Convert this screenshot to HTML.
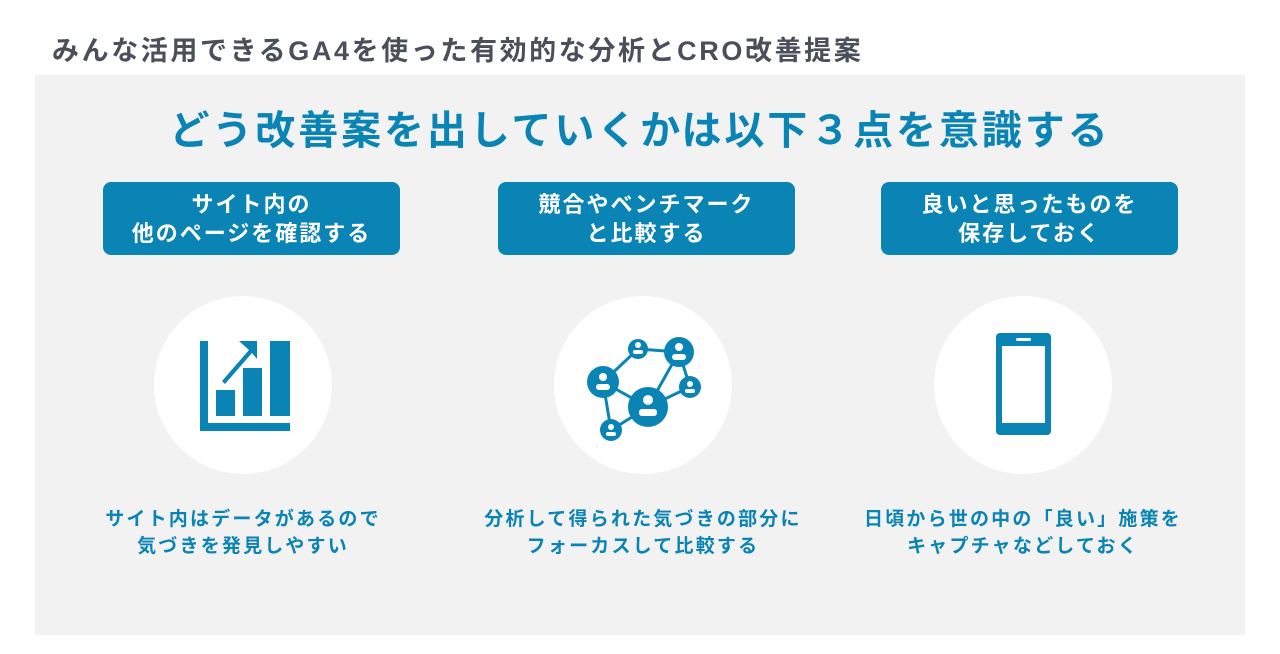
<!DOCTYPE html>
<html><head><meta charset="utf-8"><style>
body{margin:0;width:1280px;height:654px;background:#fff;font-family:"Liberation Sans","Noto Sans CJK JP",sans-serif;position:relative;overflow:hidden}
.t{position:absolute;left:52px;top:29px;font-size:27px;font-weight:bold;color:#4a4f5a;letter-spacing:2.6px;white-space:nowrap}
.p{position:absolute;left:35px;top:75px;width:1210px;height:560px;background:#f2f2f2}
.h{position:absolute;left:0;width:1280px;top:98px;text-align:center;font-size:40px;font-weight:bold;color:#0a84b4;letter-spacing:2.9px;white-space:nowrap}
.b{position:absolute;top:182px;width:297px;height:73px;background:#0a84b4;border-radius:8px;color:#fff;font-size:22px;font-weight:bold;text-align:center;display:flex;align-items:center;justify-content:center;line-height:29px;letter-spacing:2px}
.c{position:absolute;top:296px;width:178px;height:178px;border-radius:50%;background:#fff}
.d{position:absolute;top:506px;width:400px;text-align:center;font-size:19px;font-weight:bold;color:#0a84b4;line-height:27px;letter-spacing:2.2px}
</style></head><body>
<div class="t">みんな活用できるGA4を使った有効的な分析とCRO改善提案</div>
<div class="p"></div>
<div class="h">どう改善案を出していくかは以下３点を意識する</div>
<div class="b" style="left:103px">サイト内の<br>他のページを確認する</div>
<div class="b" style="left:498px">競合やベンチマーク<br>と比較する</div>
<div class="b" style="left:881px">良いと思ったものを<br>保存しておく</div>
<div class="c" style="left:154px"></div>
<div class="c" style="left:554px"></div>
<div class="c" style="left:934px"></div>
<svg style="position:absolute;left:0;top:0" width="1280" height="654">
<g fill="#0a84b4">
<path d="M200 341h8v82h82v8h-90z"/>
<rect x="216" y="390" width="19" height="26"/>
<rect x="243" y="368" width="19" height="48"/>
<rect x="270" y="341" width="20" height="75"/>
<path d="M239 341h18v18l-5-6-27 31-3-3 27-31z"/>
</g>
<g stroke="#0a84b4" stroke-width="3" fill="none">
<path d="M603 382L638 349L679 352L648 407L603 382L611 430L648 407L690 387L679 352"/>
</g>
<g fill="#0a84b4">
<circle cx="603" cy="382" r="16"/><circle cx="638" cy="349" r="10"/><circle cx="679" cy="352" r="15"/>
<circle cx="690" cy="387" r="11"/><circle cx="648" cy="407" r="20"/><circle cx="611" cy="430" r="11"/>
</g>
<g fill="#fff">
<circle cx="603" cy="377" r="4"/><rect x="596" y="384" width="14" height="6" rx="3"/>
<circle cx="679" cy="347" r="4"/><rect x="672" y="354" width="14" height="6" rx="3"/>
<circle cx="648" cy="400" r="5"/><rect x="639" y="409" width="18" height="7" rx="3"/>
<circle cx="638" cy="345" r="3"/><rect x="633" y="350" width="10" height="4" rx="2"/>
<circle cx="690" cy="384" r="3"/><rect x="685" y="389" width="10" height="4" rx="2"/>
<circle cx="611" cy="427" r="3"/><rect x="606" y="432" width="10" height="4" rx="2"/>
</g>
<rect x="996" y="333" width="55" height="102" rx="4" fill="#0a84b4"/>
<rect x="1002" y="346" width="43" height="77" fill="#fff"/>
<rect x="1016" y="338" width="15" height="3" rx="1.5" fill="#fff"/>
</svg>
<div class="d" style="left:43px">サイト内はデータがあるので<br>気づきを発見しやすい</div>
<div class="d" style="left:443px">分析して得られた気づきの部分に<br>フォーカスして比較する</div>
<div class="d" style="left:823px">日頃から世の中の「良い」施策を<br>キャプチャなどしておく</div>
</body></html>
